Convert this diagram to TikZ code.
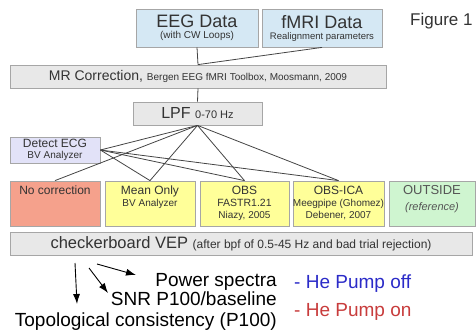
\documentclass[tikz,border=0pt]{standalone}
\usepackage{fontspec}
\setmainfont{Liberation Sans}
\usetikzlibrary{arrows.meta}

\definecolor{boxline}{HTML}{A6A6A6}
\definecolor{datafill}{HTML}{D5E8F4}
\definecolor{grayfill}{HTML}{E8E8E8}
\definecolor{ecgfill}{HTML}{E2E2F8}
\definecolor{nonefill}{HTML}{F5A18C}
\definecolor{yelfill}{HTML}{FFFF99}
\definecolor{outfill}{HTML}{CFF5D0}
\definecolor{ink}{HTML}{333333}
\definecolor{outink}{HTML}{555555}
\definecolor{wirecol}{HTML}{444444}
\definecolor{pumpoff}{HTML}{2B2BC8}
\definecolor{pumpon}{HTML}{C83C3C}

\newcommand\fsz[2]{\fontsize{#1}{#2}\selectfont}

\begin{document}
\begin{tikzpicture}[x=1pt,y=-1pt,
  box/.style={draw=boxline, line width=0.8pt, inner sep=0pt, text=ink, align=center},
  stage/.style={box, minimum height=45pt},
  stagetext/.style={anchor=north, align=center, text=ink, inner sep=0pt, yshift=-5pt},
  wire/.style={draw=wirecol, line width=0.8pt},
  pointer/.style={draw=black, line width=0.9pt, -{Latex[length=10pt,width=7pt]}},
  result/.style={anchor=base east, inner sep=0pt, text=black},
  pump/.style={anchor=base west, inner sep=0pt}]
\useasboundingbox (0,0) rectangle (476,332);

% input data
\node[box, fill=datafill, minimum width=122pt, minimum height=38pt] (eeg) at (197,28)
  {\fsz{18}{19}EEG Data\\[-1pt]\fsz{10}{11}(with CW Loops)};
\node[box, fill=datafill, minimum width=120pt, minimum height=38pt] (fmri) at (322,28)
  {\fsz{18}{19}fMRI Data\\[-1pt]\fsz{9.5}{11}Realignment parameters};
\node[anchor=base west, inner sep=0pt, text=ink] (fig) at (410,25) {\fsz{17}{19}Figure 1};

% preprocessing
\node[box, fill=grayfill, minimum width=376pt, minimum height=23pt] (mr) at (198,76.5)
  {\fsz{14}{16}MR Correction, \fsz{10}{12}Bergen EEG fMRI Toolbox, Moosmann, 2009};
\node[box, fill=grayfill, minimum width=129pt, minimum height=23pt] (lpf) at (197.5,113.5)
  {\fsz{16}{18}LPF \fsz{11}{13}0-70 Hz};
\node[box, fill=ecgfill, minimum width=90pt, minimum height=26pt] (ecg) at (55,150)
  {\fsz{12}{13}Detect ECG\\[-1pt]\fsz{10}{11}BV Analyzer};

% correction variants
\node[stage, fill=nonefill, minimum width=90pt] (none) at (55,203.5) {};
\node[stagetext] (nonetxt) at (none.north) {\fsz{12}{13}No correction};
\node[stage, fill=yelfill, minimum width=90pt] (mean) at (150,203.5) {};
\node[stagetext] (meantxt) at (mean.north) {\fsz{12}{13}Mean Only\\\fsz{10}{12}BV Analyzer};
\node[stage, fill=yelfill, minimum width=89pt] (obs) at (244.5,203.5) {};
\node[stagetext] (obstxt) at (obs.north) {\fsz{12}{13}OBS\\\fsz{10.5}{12.5}FASTR1.21\\Niazy, 2005};
\node[stage, fill=yelfill, minimum width=91pt] (ica) at (338.5,203.5) {};
\node[stagetext] (icatxt) at (ica.north) {\fsz{12}{13}OBS-ICA\\\fsz{10}{12.5}Meegpipe (Ghomez)\\Debener, 2007};
\node[stage, fill=outfill, minimum width=86pt] (out) at (432,203.5) {};
\node[stagetext, text=outink] (outtxt) at (out.north) {\fsz{13}{14}OUTSIDE\\[4pt]\fsz{11}{12}\itshape (reference)};

% analysis
\node[box, fill=grayfill, minimum width=462pt, minimum height=23pt] (vep) at (241,243.5)
  {\fsz{16.5}{18}checkerboard VEP \fsz{12}{14}(after bpf of 0.5-45 Hz and bad trial rejection)};

% connectors
\draw[wire] (eeg.south) -- (mr.north);
\draw[wire] (fmri.south) -- (mr.north);
\draw[wire] (mr.south) -- (lpf.north);
\foreach \t in {ecg.east, none.north, mean.north, obs.north, ica.north}
  \draw[wire] (lpf.south) -- (\t);
\foreach \t in {mean.north, obs.north, ica.north}
  \draw[wire] (ecg.east) -- (\t);

% outcome measures
\node[result] (pow) at (277,286) {\fsz{19}{21}Power spectra};
\node[result] (snr) at (277,305) {\fsz{19}{21}SNR P100/baseline};
\node[result] (topo) at (277,326) {\fsz{19}{21}Topological consistency (P100)};
\node[pump, text=pumpoff] (off) at (294,288) {\fsz{19}{21}- He Pump off};
\node[pump, text=pumpon] (on) at (294,316) {\fsz{19}{21}- He Pump on};

\coordinate (a1s) at (75,263);
\coordinate (a1e) at (77,304);
\coordinate (a2s) at (89,268);
\coordinate (a2e) at (108,293);
\coordinate (a3s) at (97,264);
\coordinate (a3e) at (136,275);
\draw[pointer] (a1s) -- (a1e);
\draw[pointer] (a2s) -- (a2e);
\draw[pointer] (a3s) -- (a3e);
\end{tikzpicture}
\end{document}
